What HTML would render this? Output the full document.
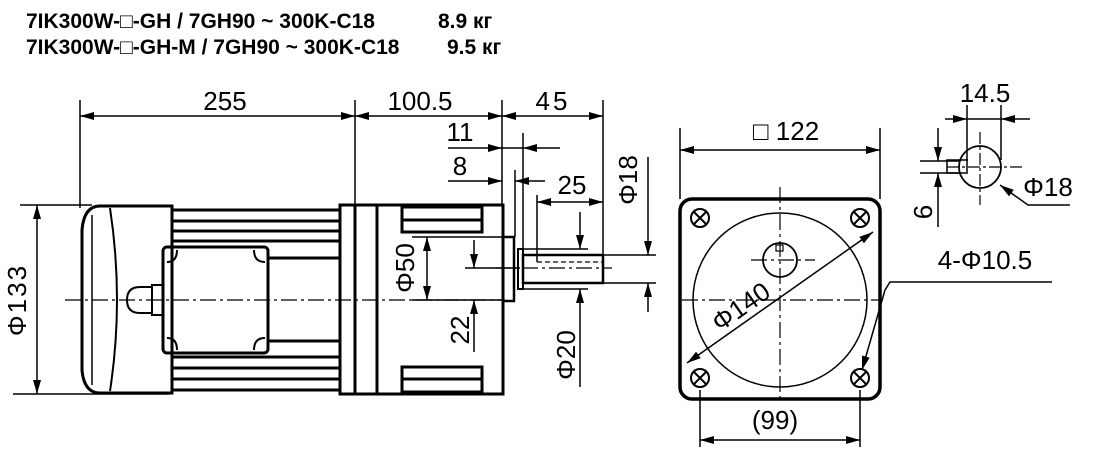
<!DOCTYPE html>
<html><head><meta charset="utf-8"><style>
html,body{margin:0;padding:0;background:#fff;}
svg{display:block;}
text{font-family:"Liberation Sans",Arial,sans-serif;fill:#000;}
.t{font-size:26px;}
.h{font-size:21px;font-weight:bold;}
</style></head><body>
<svg width="1100" height="459" viewBox="0 0 1100 459" xmlns="http://www.w3.org/2000/svg">
<defs>
<marker id="a" viewBox="0 0 14 8" refX="14" refY="4" markerWidth="14" markerHeight="8" markerUnits="userSpaceOnUse" orient="auto-start-reverse"><path d="M0,0L14,4L0,8z" fill="#000"/></marker>
</defs>
<text class="h" x="26" y="28">7IK300W-□-GH / 7GH90 ~ 300K-C18</text>
<text class="h" x="438" y="28">8.9 кг</text>
<text class="h" x="26" y="54">7IK300W-□-GH-M / 7GH90 ~ 300K-C18</text>
<text class="h" x="447" y="54">9.5 кг</text>

<g stroke="#000" fill="none" stroke-width="1.5">
<line x1="80" y1="100" x2="80" y2="208"/>
<line x1="355" y1="100" x2="355" y2="206"/>
<line x1="502" y1="100" x2="502" y2="206"/>
<line x1="603" y1="100" x2="603" y2="255"/>
<line x1="80" y1="116" x2="355" y2="116" marker-start="url(#a)" marker-end="url(#a)"/>
<line x1="355" y1="116" x2="502" y2="116" marker-start="url(#a)" marker-end="url(#a)"/>
<line x1="502" y1="116" x2="603" y2="116" marker-start="url(#a)" marker-end="url(#a)"/>
<line x1="448" y1="148" x2="502" y2="148" marker-end="url(#a)"/>
<line x1="560" y1="148" x2="523" y2="148" marker-end="url(#a)"/>
<line x1="502" y1="148" x2="523" y2="148"/>
<line x1="523" y1="133" x2="523" y2="250"/>
<line x1="448" y1="181" x2="502" y2="181" marker-end="url(#a)"/>
<line x1="545" y1="181" x2="515" y2="181" marker-end="url(#a)"/>
<line x1="515" y1="170" x2="515" y2="237"/>
<line x1="537" y1="202" x2="603" y2="202" marker-start="url(#a)" marker-end="url(#a)"/>
<line x1="537" y1="195" x2="537" y2="262"/>
<line x1="648" y1="157" x2="648" y2="255" marker-end="url(#a)"/>
<line x1="648" y1="312" x2="648" y2="283" marker-end="url(#a)"/>
<line x1="603" y1="255" x2="656" y2="255"/>
<line x1="603" y1="283" x2="656" y2="283"/>
<line x1="580" y1="212" x2="580" y2="249" marker-end="url(#a)"/>
<line x1="580" y1="387" x2="580" y2="289" marker-end="url(#a)"/>
<line x1="523" y1="249" x2="588" y2="249"/>
<line x1="523" y1="289" x2="588" y2="289"/>
<line x1="427" y1="237" x2="427" y2="300" marker-start="url(#a)" marker-end="url(#a)"/>
<line x1="412" y1="237" x2="503" y2="237"/>
<line x1="412" y1="300" x2="503" y2="300"/>
<line x1="474" y1="240" x2="474" y2="268" marker-end="url(#a)"/>
<line x1="474" y1="352" x2="474" y2="300" marker-end="url(#a)"/>
<line x1="465" y1="268" x2="520" y2="268"/>
<line x1="37" y1="205" x2="37" y2="394" marker-start="url(#a)" marker-end="url(#a)"/>
<line x1="20" y1="205" x2="92" y2="205"/>
<line x1="13" y1="394" x2="170" y2="394"/>
</g>
<text class="t" x="225" y="110" text-anchor="middle">255</text>
<text class="t" x="420" y="110" text-anchor="middle">100.5</text>
<text class="t" x="553" y="110" text-anchor="middle" letter-spacing="3">45</text>
<text class="t" x="460" y="141" text-anchor="middle">11</text>
<text class="t" x="460" y="175" text-anchor="middle">8</text>
<text class="t" x="572" y="194" text-anchor="middle">25</text>
<text class="t" transform="translate(637,180) rotate(-90)" text-anchor="middle">Φ18</text>
<text class="t" transform="translate(575,355) rotate(-90)" text-anchor="middle">Φ20</text>
<text class="t" transform="translate(414,268) rotate(-90)" text-anchor="middle">Φ50</text>
<text class="t" transform="translate(469,330) rotate(-90)" text-anchor="middle">22</text>
<text class="t" transform="translate(26,300) rotate(-90)" text-anchor="middle" letter-spacing="2">Φ133</text>

<g stroke="#000" fill="none" stroke-width="3">
<path d="M172,206 L100,206 Q84,206 82,230 L82,370 Q84,393 100,393 L172,393 Z"/>
<path d="M110,208 Q124,300 110,391" stroke-width="2"/>
<path d="M92,215 L92,385" stroke-width="1.5"/>
<line x1="172" y1="210" x2="340" y2="210"/>
<line x1="172" y1="221" x2="340" y2="221"/>
<line x1="172" y1="231" x2="340" y2="231"/>
<line x1="172" y1="241" x2="340" y2="241"/>
<line x1="268" y1="258" x2="340" y2="258"/>
<line x1="268" y1="341" x2="340" y2="341"/>
<line x1="172" y1="357" x2="340" y2="357"/>
<line x1="172" y1="368" x2="340" y2="368"/>
<line x1="172" y1="379" x2="340" y2="379"/>
<line x1="172" y1="390" x2="340" y2="390"/>
<rect x="163" y="247" width="105" height="106" rx="4"/>
<path d="M167,262 q10,0 10,-12 M254,250 q0,12 11,12 M167,338 q10,0 10,12 M254,350 q0,-12 11,-12" stroke-width="2"/>
<path d="M140,287 L152,287 L152,313 L140,313 Q127,313 127,300 Q127,287 140,287Z" stroke-width="2"/>
<rect x="152" y="285" width="11" height="30" stroke-width="2"/>
<rect x="340" y="205" width="163" height="189"/>
<line x1="355" y1="205" x2="355" y2="394"/>
<line x1="377" y1="205" x2="377" y2="394"/>
<rect x="402" y="207" width="80" height="25"/>
<line x1="402" y1="220" x2="482" y2="220"/>
<rect x="402" y="367" width="80" height="25"/>
<line x1="402" y1="379" x2="482" y2="379"/>
<rect x="503" y="237" width="11" height="64" stroke-width="2.5"/>
<rect x="518" y="249" width="5" height="40" stroke-width="2"/>
<rect x="523" y="255" width="80" height="28" stroke-width="2.5"/>
</g>
<g stroke="#000" fill="none" stroke-width="1.2" stroke-dasharray="16,4,3,4">
<line x1="65" y1="300" x2="505" y2="300"/>
<line x1="495" y1="268" x2="612" y2="268"/>
</g>
<line x1="537" y1="262" x2="603" y2="262" stroke="#000" stroke-width="1.2" stroke-dasharray="5,3"/>

<g stroke="#000" fill="none">
<rect x="680" y="199" width="200" height="200" rx="12" stroke-width="3.5"/>
<circle cx="780" cy="300" r="87" stroke-width="1.5"/>
<circle cx="780" cy="260" r="17" stroke-width="1.8"/>
<rect x="776" y="245" width="7" height="6" stroke-width="1.2"/>
<g stroke-width="2">
<circle cx="700" cy="218" r="9"/><path d="M693,211l14,14M707,211l-14,14"/>
<circle cx="860" cy="218" r="9"/><path d="M853,211l14,14M867,211l-14,14"/>
<circle cx="700" cy="378" r="9"/><path d="M693,371l14,14M707,371l-14,14"/>
<circle cx="860" cy="378" r="9"/><path d="M853,371l14,14M867,371l-14,14"/>
</g>
<g stroke-width="1.2" stroke-dasharray="16,4,3,4">
<line x1="682" y1="300" x2="880" y2="300"/>
<line x1="780" y1="187" x2="780" y2="400"/>
<line x1="751" y1="260" x2="815" y2="260"/>
</g>
<g stroke-width="1.5">
<line x1="687" y1="363" x2="873" y2="232" marker-start="url(#a)" marker-end="url(#a)"/>
<line x1="680" y1="128" x2="680" y2="199"/>
<line x1="880" y1="128" x2="880" y2="199"/>
<line x1="680" y1="150" x2="880" y2="150" marker-start="url(#a)" marker-end="url(#a)"/>
<line x1="700" y1="390" x2="700" y2="447"/>
<line x1="860" y1="390" x2="860" y2="447"/>
<line x1="700" y1="440" x2="860" y2="440" marker-start="url(#a)" marker-end="url(#a)"/>
<polyline points="1052,282 890,282 885,290"/>
<line x1="885" y1="290" x2="862" y2="370" marker-end="url(#a)"/>
</g>
<circle cx="980" cy="167" r="21" stroke-width="1.8"/>
<polyline points="968,160 947,160 947,173 968,173" stroke-width="1.5"/>
<g stroke-width="1.2" stroke-dasharray="12,3,3,3">
<line x1="947" y1="167" x2="1022" y2="167"/>
<line x1="980" y1="132" x2="980" y2="205"/>
</g>
<g stroke-width="1.5">
<line x1="967" y1="105" x2="967" y2="172"/>
<line x1="1001" y1="105" x2="1001" y2="160"/>
<line x1="945" y1="119" x2="967" y2="119" marker-end="url(#a)"/>
<line x1="1030" y1="119" x2="1001" y2="119" marker-end="url(#a)"/>
<line x1="967" y1="119" x2="1001" y2="119"/>
<line x1="920" y1="161" x2="960" y2="161"/>
<line x1="920" y1="173" x2="960" y2="173"/>
<line x1="938" y1="128" x2="938" y2="161" marker-end="url(#a)"/>
<line x1="938" y1="227" x2="938" y2="173" marker-end="url(#a)"/>
<polyline points="1070,205 1028,205 1000,185" marker-end="url(#a)"/>
</g>
</g>
<text class="t" x="786" y="140" text-anchor="middle">□ 122</text>
<text class="t" x="775" y="429" text-anchor="middle">(99)</text>
<text class="t" x="985" y="269" text-anchor="middle">4-Φ10.5</text>
<text class="t" transform="translate(746,314) rotate(-35)" text-anchor="middle">Φ140</text>
<text class="t" x="985" y="102" text-anchor="middle">14.5</text>
<text class="t" x="1048" y="196" text-anchor="middle">Φ18</text>
<text class="t" transform="translate(932,212) rotate(-90)" text-anchor="middle">6</text>
</svg>
</body></html>
